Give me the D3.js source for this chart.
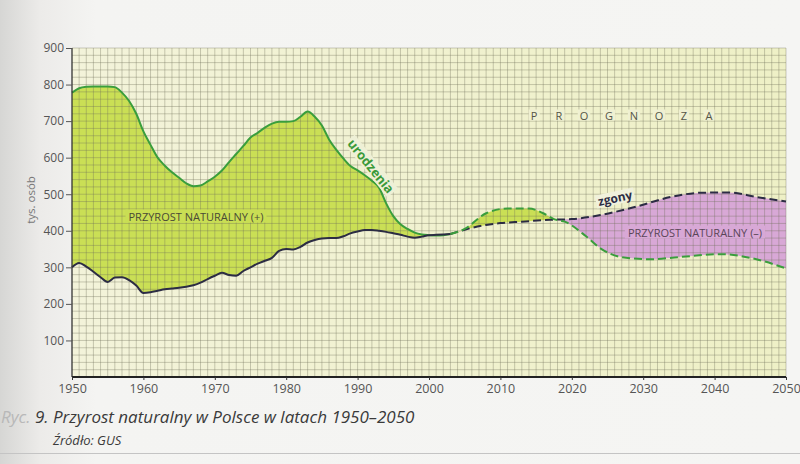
<!DOCTYPE html>
<html>
<head>
<meta charset="utf-8">
<script src="https://cdn.jsdelivr.net/npm/d3@7"></script>
<style>
html,body{margin:0;padding:0;background:#f3f3f1;}
svg{display:block;}
text{font-family:"Open Sans","DejaVu Sans",sans-serif;}
</style>
</head>
<body>
<svg id="chart" width="800" height="464"></svg>
<script>
// ---- data (thousands of people) ----
const birthYears = [1950,1951,1952,1953,1954,1955,1956,1957,1958,1959,1960,1961,1962,1963,1964,1965,1966,1967,1968,1969,1970,1971,1972,1973,1974,1975,1976,1977,1978,1979,1980,1981,1982,1983,1984,1985,1986,1987,1988,1989,1990,1991,1992,1993,1994,1995,1996,1997,1998,1999,2000,2001,2002,2003];
const birthValues = [778,790,794,795,795,795,793,778,755,720,672,635,600,578,560,545,530,522,524,535,548,565,588,610,632,655,668,682,693,698,698,700,712,726,712,688,650,622,598,577,565,552,537,518,475,440,418,405,395,390,388,387,388,391];
const deathYears = birthYears;
const deathValues = [300,312,302,288,273,260,272,273,265,250,230,232,236,240,242,244,247,251,258,268,277,285,279,277,290,300,310,318,326,345,350,349,356,368,375,379,380,380,385,393,398,402,402,400,397,393,389,384,381,384,388,389,390,391];
const birthForecastYears = [2003,2005,2008,2011,2014,2016,2017.5,2019,2022,2024,2027,2031,2035,2041,2045,2050];
const birthForecastValues = [391,405,448,461,461,448,432,425,385,352,328,322,328,336,326,297];
const deathForecastYears = [2003,2005,2008,2010,2013,2017,2020,2024,2029,2034,2038,2042,2046,2050];
const deathForecastValues = [391,403,416,421,425,430,432,443,466,493,504,505,492,480];
const yTicks = [100,200,300,400,500,600,700,800,900];
const xTicks = [1950,1960,1970,1980,1990,2000,2010,2020,2030,2040,2050];
const prognozaLetters = ["P","R","O","G","N","O","Z","A"];

const svg = d3.select("#chart");
const W = 800, H = 464;
const x = d3.scaleLinear().domain([1950,2050]).range([72,786]);
const y = d3.scaleLinear().domain([0,900]).range([377,48]);

const defs = svg.append("defs");
const g1 = defs.append("linearGradient").attr("id","scan").attr("x1","0").attr("x2","1").attr("y1","0").attr("y2","0");
g1.append("stop").attr("offset","0").attr("stop-color","#d6d6d4");
g1.append("stop").attr("offset","0.05").attr("stop-color","#ecebe9");
g1.append("stop").attr("offset","0.12").attr("stop-color","#f4f4f2");
g1.append("stop").attr("offset","1").attr("stop-color","#f5f5f3");
svg.append("rect").attr("width",W).attr("height",H).attr("fill","url(#scan)");

const gb = defs.append("linearGradient").attr("id","plotbg").attr("x1","0").attr("x2","1").attr("y1","0").attr("y2","0");
gb.append("stop").attr("offset","0").attr("stop-color","#f3f3da");
gb.append("stop").attr("offset","1").attr("stop-color","#eef0c6");

// plot background
svg.append("rect").attr("x",x(1950)).attr("y",y(900)).attr("width",x(2050)-x(1950)).attr("height",y(0)-y(900)).attr("fill","url(#plotbg)");

const bAll = birthYears.map((d,i)=>[d,birthValues[i]]).concat(birthForecastYears.slice(1).map((d,i)=>[d,birthForecastValues[i+1]]));
const dAll = deathYears.map((d,i)=>[d,deathValues[i]]).concat(deathForecastYears.slice(1).map((d,i)=>[d,deathForecastValues[i+1]]));
const curve = d3.curveMonotoneX;

// clip paths
defs.append("clipPath").attr("id","aboveDeaths").append("path")
  .attr("d", d3.area().curve(curve).x(d=>x(d[0])).y0(y(900)).y1(d=>y(d[1]))(dAll));
defs.append("clipPath").attr("id","belowDeaths").append("path")
  .attr("d", d3.area().curve(curve).x(d=>x(d[0])).y0(y(0)).y1(d=>y(d[1]))(dAll));

// green: between births and deaths, births above
svg.append("path").attr("clip-path","url(#aboveDeaths)")
  .attr("d", d3.area().curve(curve).x(d=>x(d[0])).y0(y(0)).y1(d=>y(d[1]))(bAll))
  .attr("fill","#cadf55");
// pink: deaths above births
svg.append("path").attr("clip-path","url(#belowDeaths)")
  .attr("d", d3.area().curve(curve).x(d=>x(d[0])).y0(y(900)).y1(d=>y(d[1]))(bAll))
  .attr("fill","#d8a8d6");

// grid
const grid = svg.append("g").attr("stroke","#6f6f5a").attr("stroke-opacity",0.45).attr("stroke-width",0.8);
d3.range(1951,2051,1).forEach(v=>{
  grid.append("line").attr("x1",x(v)).attr("x2",x(v)).attr("y1",y(900)).attr("y2",y(0));
});
d3.range(20,901,20).forEach(v=>{
  grid.append("line").attr("x1",x(1950)).attr("x2",x(2050)).attr("y1",y(v)).attr("y2",y(v));
});

// knockout labels
function knockLabel(txt, cx, cy, size, fill, bg, weight, rot, padX, padY){
  const g = svg.append("g").attr("transform",`translate(${cx},${cy}) rotate(${rot||0})`);
  const t = g.append("text").attr("text-anchor","middle").attr("dominant-baseline","central")
    .attr("font-size",size).attr("fill",fill).attr("font-weight",weight||400).text(txt);
  const bb = t.node().getBBox();
  g.insert("rect","text").attr("x",bb.x-padX).attr("y",bb.y-padY).attr("width",bb.width+2*padX).attr("height",bb.height+2*padY).attr("fill",bg);
  return g;
}
knockLabel("PRZYROST NATURALNY (+)", 196, 216, 11, "#4a4a36", "#c9de54", 400, 0, 3, -1);
knockLabel("PRZYROST NATURALNY (–)", 695, 232, 11, "#5a4658", "#d8a8d6", 400, 0, 3, -1);
prognozaLetters.forEach((L,i)=>{
  knockLabel(L, 534 + i*25, 115, 11, "#555548", "#eff0d2", 400, 0, 2, -2);
});

// lines
const line = d3.line().curve(curve).x(d=>x(d[0])).y(d=>y(d[1]));
const bHist = birthYears.map((d,i)=>[d,birthValues[i]]);
const dHist = deathYears.map((d,i)=>[d,deathValues[i]]);
const bFc = birthForecastYears.map((d,i)=>[d,birthForecastValues[i]]);
const dFc = deathForecastYears.map((d,i)=>[d,deathForecastValues[i]]);
svg.append("path").attr("d",line(bHist)).attr("fill","none").attr("stroke","#3a9e3c").attr("stroke-width",2);
svg.append("path").attr("d",line(dHist)).attr("fill","none").attr("stroke","#2c2c44").attr("stroke-width",2);
svg.append("path").attr("d",line(dFc)).attr("fill","none").attr("stroke","#2c2c44").attr("stroke-width",2).attr("stroke-dasharray","8,4");
svg.append("path").attr("d",line(bFc)).attr("fill","none").attr("stroke","#3a9e3c").attr("stroke-width",2).attr("stroke-dasharray","8,4");

knockLabel("urodzenia", 371, 166, 13, "#3a9a3a", "#eef0d6", 700, 51, 2, -2);
knockLabel("zgony", 615, 198, 12, "#2c2c44", "#f0f1dc", 700, -12, 2, -2);

// axes
const yAxis = svg.append("g").attr("transform",`translate(${x(1950)},0)`)
  .call(d3.axisLeft(y).tickValues(yTicks).tickSize(6).tickPadding(2));
yAxis.select(".domain").attr("stroke","#333").attr("stroke-width",1.3).attr("d",`M0,${y(900)}V${y(0)}`);
yAxis.selectAll(".tick line").attr("stroke","#555");
yAxis.selectAll(".tick text").attr("font-size",12).attr("fill","#555").attr("font-family","'Open Sans',sans-serif");

const xAxis = svg.append("g").attr("transform",`translate(0,${y(0)})`)
  .call(d3.axisBottom(x).tickValues(xTicks).tickFormat(d3.format("d")).tickSize(3).tickPadding(4));
xAxis.select(".domain").attr("stroke","#222").attr("stroke-width",1.8).attr("d",`M${x(1950)},0H${x(2050)}`);
xAxis.selectAll(".tick line").attr("stroke","#333");
xAxis.selectAll(".tick text").attr("font-size",12.5).attr("fill","#555").attr("font-family","'Open Sans',sans-serif");

// y axis title
svg.append("text").attr("transform","translate(35,200) rotate(-90)").attr("text-anchor","middle")
  .attr("font-size",11.5).attr("fill","#777").text("tys. osób");

// caption
const cap = svg.append("text").attr("x",1).attr("y",423).attr("font-size",17).attr("font-style","italic").attr("fill","#3a3a3a");
cap.append("tspan").attr("fill","#b8b8b8").text("Ryc. ");
cap.append("tspan").text("9. Przyrost naturalny w Polsce w latach 1950–2050");
svg.append("text").attr("x",53).attr("y",445).attr("font-size",13).attr("font-style","italic").attr("fill","#3a3a3a").text("Źródło: GUS");
svg.append("line").attr("x1",0).attr("x2",W).attr("y1",453.5).attr("y2",453.5).attr("stroke","#c4c4c4").attr("stroke-width",1);
</script>
</body>
</html>
